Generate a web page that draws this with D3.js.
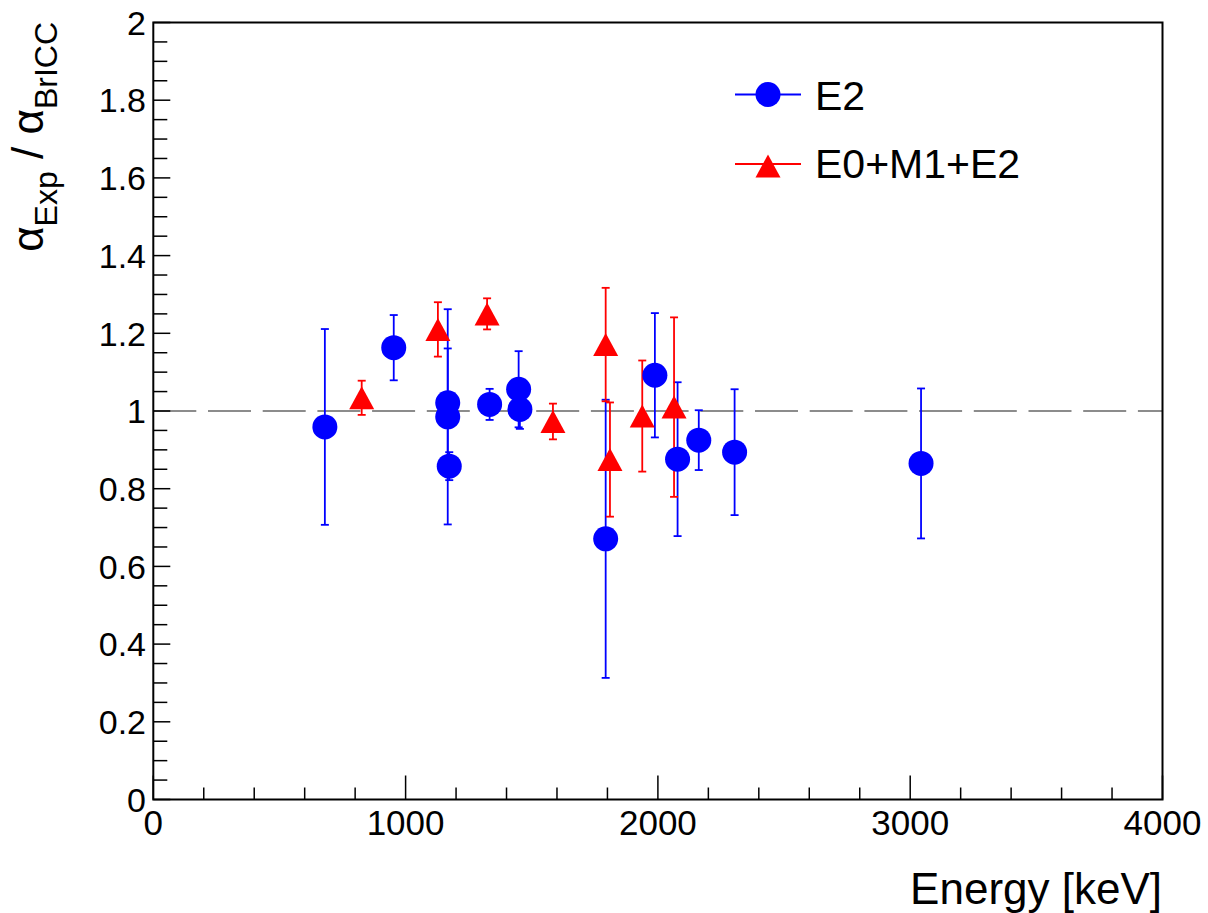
<!DOCTYPE html>
<html>
<head>
<meta charset="utf-8">
<script src="https://cdn.jsdelivr.net/npm/d3@7"></script>
<style>
  html, body { margin: 0; padding: 0; background: #fff; }
  svg { display: block; font-family: "Liberation Sans", Arial, Helvetica, sans-serif; }
</style>
</head>
<body>
<svg id="chart" width="1208" height="913"></svg>
<script>
// Conversion-coefficient ratios: experiment over BrICC, per transition energy
const e2Energy = [680, 953, 1167, 1167, 1173, 1333, 1448, 1453, 1793, 1988, 2078, 2162, 2304, 3043];
const e2Ratio  = [0.959, 1.163, 1.021, 0.985, 0.858, 1.017, 1.056, 1.004, 0.671, 1.092, 0.876, 0.925, 0.894, 0.865];
const e2Err    = [0.252, 0.084, 0.140, 0.277, 0.036, 0.040, 0.098, 0.050, 0.358, 0.160, 0.198, 0.077, 0.162, 0.193];

const mixEnergy = [826, 1128, 1323, 1584, 1793, 1810, 1938, 2064];
const mixRatio  = [1.034, 1.210, 1.250, 0.973, 1.171, 0.875, 0.987, 1.010];
const mixErr    = [0.044, 0.070, 0.040, 0.046, 0.146, 0.147, 0.143, 0.231];

const xTickValues = [0, 1000, 2000, 3000, 4000];
const yTickValues = [0, 0.2, 0.4, 0.6, 0.8, 1, 1.2, 1.4, 1.6, 1.8, 2];
const seriesNames = ["E2", "E0+M1+E2"];

const svg = d3.select("#chart");
const plotLeft = 153.3, plotRight = 1162.5, plotTop = 22.5, plotBottom = 799.5;

const x = d3.scaleLinear().domain([0, 4000]).range([plotLeft, plotRight]);
const y = d3.scaleLinear().domain([0, 2]).range([plotBottom, plotTop]);

// reference line at unity
svg.append("line")
  .attr("x1", x(0)).attr("x2", x(4000))
  .attr("y1", y(1)).attr("y2", y(1))
  .attr("stroke", "#8c8c8c").attr("stroke-width", 2)
  .attr("stroke-dasharray", "43 11.7");

// frame
svg.append("rect")
  .attr("x", plotLeft).attr("y", plotTop)
  .attr("width", plotRight - plotLeft).attr("height", plotBottom - plotTop)
  .attr("fill", "none").attr("stroke", "#000").attr("stroke-width", 2);

// x axis: major ticks with labels, minor ticks every 200 keV
const xMinor = d3.range(0, 4001, 200).filter(v => v % 1000 !== 0);
svg.append("g").selectAll("line").data(xMinor).join("line")
  .attr("x1", d => x(d)).attr("x2", d => x(d))
  .attr("y1", plotBottom).attr("y2", plotBottom - 12)
  .attr("stroke", "#000").attr("stroke-width", 1.5);
svg.append("g").selectAll("line").data(xTickValues).join("line")
  .attr("x1", d => x(d)).attr("x2", d => x(d))
  .attr("y1", plotBottom).attr("y2", plotBottom - 24)
  .attr("stroke", "#000").attr("stroke-width", 1.5);
svg.append("g").selectAll("text").data(xTickValues).join("text")
  .attr("x", d => x(d)).attr("y", 835)
  .attr("text-anchor", "middle")
  .attr("font-size", 35)
  .text(d => d3.format("d")(d));

// y axis: major ticks every 0.2, minor every 0.05
const yMinor = d3.range(0, 41).map(i => i * 0.05).filter(v => Math.abs(v / 0.2 - Math.round(v / 0.2)) > 1e-6);
svg.append("g").selectAll("line").data(yMinor).join("line")
  .attr("x1", plotLeft).attr("x2", plotLeft + 14)
  .attr("y1", d => y(d)).attr("y2", d => y(d))
  .attr("stroke", "#000").attr("stroke-width", 1.5);
svg.append("g").selectAll("line").data(yTickValues).join("line")
  .attr("x1", plotLeft).attr("x2", plotLeft + 17)
  .attr("y1", d => y(d)).attr("y2", d => y(d))
  .attr("stroke", "#000").attr("stroke-width", 1.5);
svg.append("g").selectAll("text").data(yTickValues).join("text")
  .attr("x", 146).attr("y", d => y(d))
  .attr("dy", "0.36em")
  .attr("text-anchor", "end")
  .attr("font-size", 34)
  .text(d => d3.format("~g")(d));

// axis titles
svg.append("text")
  .attr("x", 1162).attr("y", 904)
  .attr("text-anchor", "end")
  .attr("font-size", 44)
  .text("Energy [keV]");

const yTitle = svg.append("text")
  .attr("transform", "translate(43,22) rotate(-90)")
  .attr("text-anchor", "end")
  .attr("font-size", 44);
yTitle.append("tspan").text("\u03b1");
yTitle.append("tspan").attr("font-size", 32).attr("dy", 14).text("Exp");
yTitle.append("tspan").attr("dy", -14).text(" / \u03b1");
yTitle.append("tspan").attr("font-size", 32).attr("dy", 14).text("BrICC");

// error bars with end caps
function errorBars(ex, ey, ee, color) {
  const g = svg.append("g").attr("stroke", color).attr("stroke-width", 1.8);
  const idx = d3.range(ex.length);
  g.selectAll(".stem").data(idx).join("line")
    .attr("x1", i => x(ex[i])).attr("x2", i => x(ex[i]))
    .attr("y1", i => y(ey[i] + ee[i])).attr("y2", i => y(ey[i] - ee[i]));
  g.selectAll(".capTop").data(idx).join("line")
    .attr("x1", i => x(ex[i]) - 4).attr("x2", i => x(ex[i]) + 4)
    .attr("y1", i => y(ey[i] + ee[i])).attr("y2", i => y(ey[i] + ee[i]));
  g.selectAll(".capBot").data(idx).join("line")
    .attr("x1", i => x(ex[i]) - 4).attr("x2", i => x(ex[i]) + 4)
    .attr("y1", i => y(ey[i] - ee[i])).attr("y2", i => y(ey[i] - ee[i]));
}
errorBars(e2Energy, e2Ratio, e2Err, "#0000ff");
errorBars(mixEnergy, mixRatio, mixErr, "#ff0000");

// markers
const tri = (cx, cy) => `M${cx},${cy - 11.5}L${cx + 12.5},${cy + 11.5}L${cx - 12.5},${cy + 11.5}Z`;

svg.append("g").selectAll("circle").data(d3.range(e2Energy.length)).join("circle")
  .attr("cx", i => x(e2Energy[i])).attr("cy", i => y(e2Ratio[i]))
  .attr("r", 12.5).attr("fill", "#0000ff");

svg.append("g").selectAll("path").data(d3.range(mixEnergy.length)).join("path")
  .attr("d", i => tri(x(mixEnergy[i]), y(mixRatio[i])))
  .attr("fill", "#ff0000");

// legend
const legend = svg.append("g");
const legendRows = [
  { name: seriesNames[0], color: "#0000ff", cy: 94.5, ty: 110, shape: "circle" },
  { name: seriesNames[1], color: "#ff0000", cy: 164, ty: 178, shape: "triangle" }
];
legendRows.forEach(r => {
  legend.append("line")
    .attr("x1", 735).attr("x2", 801)
    .attr("y1", r.cy).attr("y2", r.cy)
    .attr("stroke", r.color).attr("stroke-width", 1.8);
  if (r.shape === "circle") {
    legend.append("circle").attr("cx", 768).attr("cy", r.cy).attr("r", 12.5).attr("fill", r.color);
  } else {
    legend.append("path").attr("d", tri(768, r.cy + 2)).attr("fill", r.color);
  }
  legend.append("text")
    .attr("x", 815).attr("y", r.ty)
    .attr("font-size", 41)
    .text(r.name);
});
</script>
</body>
</html>
